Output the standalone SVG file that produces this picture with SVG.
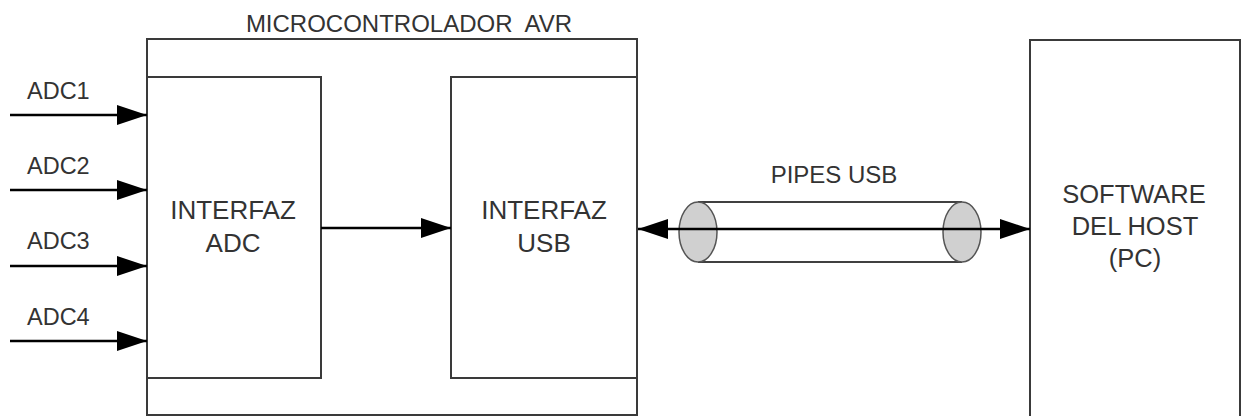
<svg xmlns="http://www.w3.org/2000/svg" width="1242" height="416" viewBox="0 0 1242 416">
<style>
.box{fill:#fff;stroke:#3a3a3a;stroke-width:2}
.t{font-family:"Liberation Sans",Arial,sans-serif;font-size:23.5px;fill:#333}
.b{font-size:26px}
.h{font-size:25.5px}
.c{text-anchor:middle}
.ln{stroke:#000;stroke-width:2.5;fill:none}
.pipe{fill:#d0d0d0;stroke:#555;stroke-width:1.5}
</style>
<defs>
<marker id="ah" viewBox="0 0 30 20" refX="30" refY="10" markerWidth="30" markerHeight="20" markerUnits="userSpaceOnUse" orient="auto-start-reverse">
<path d="M0,0 L30,10 L0,20 Z" fill="#000"/>
</marker>
</defs>
<rect width="1242" height="416" fill="#fff"/>
<g id="avr">
<rect class="box" x="147" y="39" width="490" height="376"/>
<text class="t c" x="409" y="32" style="font-size:24px;white-space:pre" xml:space="preserve">MICROCONTROLADOR  AVR</text>
</g>
<g id="adc">
<rect class="box" x="147" y="77" width="174" height="301"/>
<text class="t b c" x="233" y="219">INTERFAZ</text>
<text class="t b c" x="233" y="252">ADC</text>
</g>
<g id="usb">
<rect class="box" x="451" y="77" width="186" height="301"/>
<text class="t b c" x="544" y="219">INTERFAZ</text>
<text class="t b c" x="544" y="252">USB</text>
</g>
<g id="host">
<rect class="box" x="1030" y="40" width="210" height="380"/>
<text class="t h c" x="1134" y="203">SOFTWARE</text>
<text class="t h c" x="1135" y="235">DEL HOST</text>
<text class="t h c" x="1135" y="267">(PC)</text>
</g>
<g id="pipes">
<line x1="698" y1="202" x2="962" y2="202" stroke="#000" stroke-width="1.5"/>
<line x1="698" y1="262" x2="962" y2="262" stroke="#000" stroke-width="1.5"/>
<ellipse class="pipe" cx="698" cy="232" rx="19" ry="30"/>
<ellipse class="pipe" cx="962" cy="232" rx="19" ry="30"/>
<text class="t c" x="834" y="183" style="font-size:24px">PIPES USB</text>
</g>
<g id="connectors">
<text class="t" x="27" y="99">ADC1</text>
<text class="t" x="27" y="174">ADC2</text>
<text class="t" x="27" y="249">ADC3</text>
<text class="t" x="27" y="325">ADC4</text>
<line class="ln" x1="10" y1="115" x2="147" y2="115" marker-end="url(#ah)"/>
<line class="ln" x1="10" y1="190" x2="147" y2="190" marker-end="url(#ah)"/>
<line class="ln" x1="10" y1="266" x2="147" y2="266" marker-end="url(#ah)"/>
<line class="ln" x1="10" y1="341" x2="147" y2="341" marker-end="url(#ah)"/>
<line class="ln" x1="321" y1="228" x2="451" y2="228" marker-end="url(#ah)"/>
<line class="ln" x1="638" y1="229" x2="1030" y2="229" marker-start="url(#ah)" marker-end="url(#ah)"/>
</g>
</svg>
